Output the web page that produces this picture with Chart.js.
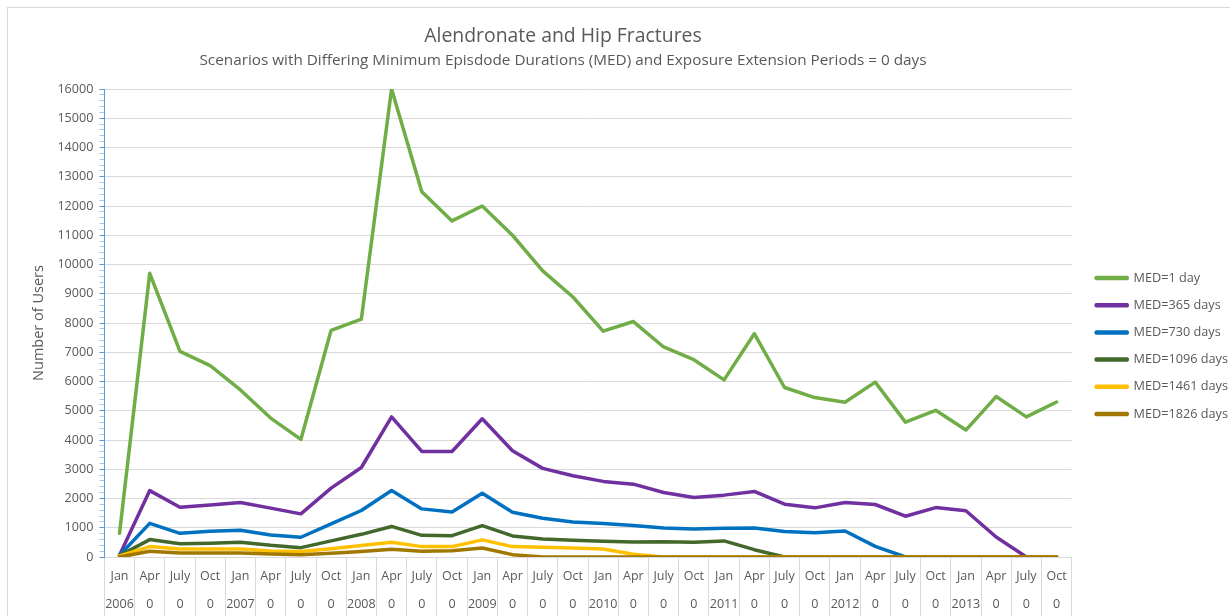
<!DOCTYPE html>
<html>
<head>
<meta charset="utf-8">
<title>Alendronate and Hip Fractures</title>
<script src="https://cdn.jsdelivr.net/npm/chart.js@4.4.1/dist/chart.umd.min.js"></script>
<style>
  html, body { margin: 0; padding: 0; background: #fff; overflow: hidden; }
  #frame { position: absolute; left: 7px; top: 7px; width: 1260px; height: 640px; border: 1px solid #d9d9d9; }
  #wrap { position: absolute; left: 0; top: 0; width: 1230px; height: 618px; }
  .ttl { position: absolute; left: 0; width: 1126px; text-align: center; color: #595959; font-family: 'Open Sans', sans-serif; white-space: nowrap; }
  #t1 { top: 21px; font-size: 19.4px; line-height: 28px; }
  #t2 { top: 48px; font-size: 15.3px; line-height: 22px; }
</style>
</head>
<body>
<div id="frame"></div>
<div id="wrap"><canvas id="hipChart"></canvas></div>
<div class="ttl" id="t1">Alendronate and Hip Fractures</div>
<div class="ttl" id="t2">Scenarios with Differing Minimum Episdode Durations (MED) and Exposure Extension Periods = 0 days</div>
<script>
// quarter + year rows of the category axis (as shown in the sheet)
const quarterLabels = ['Jan','Apr','July','Oct','Jan','Apr','July','Oct','Jan','Apr','July','Oct','Jan','Apr','July','Oct',
                       'Jan','Apr','July','Oct','Jan','Apr','July','Oct','Jan','Apr','July','Oct','Jan','Apr','July','Oct'];
const yearLabels = ['2006','0','0','0','2007','0','0','0','2008','0','0','0','2009','0','0','0',
                    '2010','0','0','0','2011','0','0','0','2012','0','0','0','2013','0','0','0'];

// number of users per scenario
const med1 = [810, 9700, 7030, 6540, 5710, 4750, 4020, 7750, 8130, 16000, 12490, 11490, 12000, 11000, 9780, 8890,
              7720, 8050, 7180, 6745, 6055, 7635, 5795, 5450, 5290, 5980, 4610, 5015, 4340, 5485, 4790, 5300];
const med365 = [60, 2270, 1700, 1780, 1860, 1670, 1475, 2355, 3060, 4790, 3610, 3605, 4725, 3635, 3030, 2780,
                2585, 2490, 2205, 2035, 2115, 2240, 1805, 1680, 1865, 1795, 1395, 1690, 1580, 685, 0, 0];
const med730 = [60, 1150, 810, 880, 915, 755, 675, 1130, 1590, 2275, 1645, 1540, 2180, 1530, 1325, 1200,
                1145, 1075, 995, 960, 985, 995, 870, 825, 890, 365, 0, 0, 0, 0, 0, 0];
const med1096 = [50, 595, 455, 470, 505, 400, 320, 550, 775, 1045, 740, 730, 1070, 720, 615, 570,
                 540, 515, 525, 505, 550, 250, 0, 0, 0, 0, 0, 0, 0, 0, 0, 0];
const med1461 = [40, 355, 275, 275, 275, 205, 185, 285, 390, 505, 355, 355, 585, 355, 330, 310,
                 275, 95, 0, 0, 0, 0, 0, 0, 0, 0, 0, 0, 0, 0, 0, 0];
const med1826 = [0, 195, 135, 135, 135, 105, 80, 125, 185, 265, 195, 215, 310, 80, 0, 0,
                 0, 0, 0, 0, 0, 0, 0, 0, 0, 0, 0, 0, 0, 0, 0, 0];

const seriesNames = ['MED=1 day', 'MED=365 days', 'MED=730 days', 'MED=1096 days', 'MED=1461 days', 'MED=1826 days'];
const seriesColors = ['#70ad47', '#7030a0', '#0070c0', '#43682b', '#ffc000', '#a07800'];
const seriesData = [med1, med365, med730, med1096, med1461, med1826];

const textColor = '#595959';
const labels = quarterLabels.map((q, i) => [q, yearLabels[i]]);

const datasets = seriesData.map((d, i) => ({
    label: seriesNames[i],
    data: d,
    borderColor: seriesColors[i],
    backgroundColor: seriesColors[i],
    borderWidth: 3.5,
    pointRadius: 0,
    pointHoverRadius: 0,
    tension: 0,
    borderJoinStyle: 'round',
    borderCapStyle: 'round',
    order: seriesData.length - i // excel draws later series on top
}));

// legend sits a bit further right / higher than chart.js puts it
const legendNudge = {
    id: 'legendNudge',
    afterLayout(chart) {
        const lg = chart.legend;
        if (!lg) return;
        lg.left += 10; lg.right += 10;
        lg.top -= 6; lg.bottom -= 6;
    }
};

const ctx = document.getElementById('hipChart').getContext('2d');
const hipChart = new Chart(ctx, {
    type: 'line',
    data: { labels: labels, datasets: datasets },
    plugins: [legendNudge],
    options: {
        responsive: true,
        maintainAspectRatio: false,
        animation: false,
        layout: { padding: { top: 89, bottom: 3, left: 28, right: 2 } },
        scales: {
            x: {
                offset: true,
                grid: { offset: true, drawOnChartArea: false, color: '#d9d9d9', tickLength: 60 },
                border: { color: '#d9d9d9' },
                ticks: {
                    autoSkip: false,
                    maxRotation: 0,
                    padding: -55,
                    color: textColor,
                    font: { family: 'Open Sans', size: 12.5, lineHeight: '28px' }
                },
                // labels hang below the box bottom edge only a little, keep the plot tall
                afterFit: (scale) => { scale.height = 58; }
            },
            y: {
                min: 0,
                max: 16000,
                ticks: {
                    stepSize: 200,
                    autoSkip: false,
                    maxTicksLimit: 100,
                    padding: 6,
                    color: textColor,
                    font: { family: 'Open Sans', size: 12.6 },
                    callback: (v) => (v % 1000 === 0 ? String(v) : '')
                },
                grid: {
                    color: (c) => (c.tick && c.tick.value % 1000 === 0 ? '#d9d9d9' : 'rgba(0,0,0,0)'),
                    tickColor: (c) => (c.tick && c.tick.value % 1000 === 0 ? '#5b9bd5' : '#a9c9e8'),
                    tickLength: 5
                },
                border: { color: '#5b9bd5', width: 1 },
                title: {
                    display: true,
                    text: 'Number of Users',
                    color: textColor,
                    font: { family: 'Open Sans', size: 14.5 },
                    padding: { top: 2, bottom: 4 }
                }
            }
        },
        plugins: {
            legend: {
                position: 'right',
                labels: {
                    boxWidth: 31,
                    boxHeight: 1,
                    padding: 14.5,
                    color: textColor,
                    font: { family: 'Open Sans', size: 12.7 },
                    sort: (a, b) => a.datasetIndex - b.datasetIndex
                }
            },
            tooltip: { enabled: false }
        }
    }
});
</script>
</body>
</html>
